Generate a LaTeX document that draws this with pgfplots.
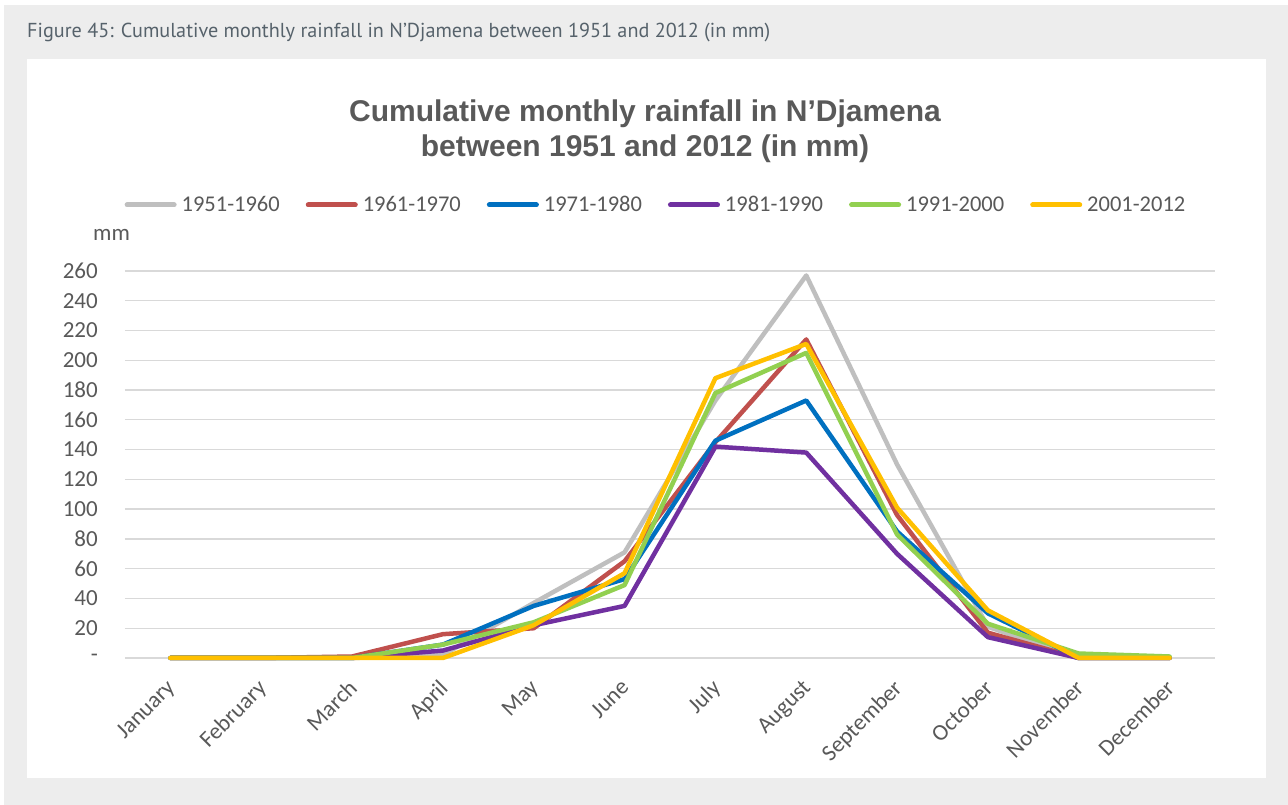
\documentclass[border=0pt]{standalone}
\usepackage{pgfplots}
\pgfplotsset{compat=1.18}
\usepackage{fontspec}
\setmainfont{Carlito}
\newfontfamily\titlefont{Liberation Sans}
\newfontfamily\headfont{PT Sans}
\definecolor{bggrey}{HTML}{EDEDED}
\definecolor{headgrey}{HTML}{56626B}
\definecolor{textgrey}{HTML}{595959}
\definecolor{gridgrey}{HTML}{D9D9D9}
\definecolor{sgrey}{HTML}{BFBFBF}
\definecolor{sred}{HTML}{C0504D}
\definecolor{sblue}{HTML}{0070C0}
\definecolor{spurple}{HTML}{7030A0}
\definecolor{sgreen}{HTML}{92D050}
\definecolor{syellow}{HTML}{FFC000}

\pgfplotstableread{
m g r b p gr y
0 0 0 0 0 0 0
1 0 0 0 0 0 0
2 0 1 0 0 0 0
3 2 16 9 5 9 0
4 37 20 35 22 24 22
5 71 65 53 35 49 57
6 173 145 146 142 178 188
7 257 214 173 138 205 211
8 130 96 85 70 83 101
9 21 17 30 14 23 32
10 0 0 0 0 3 0
11 0 0 0 0 1 0
}\rain

\begin{document}
\begin{tikzpicture}[x=1pt,y=1pt]
\fill[white] (0,0) rectangle (1288,805);
\fill[bggrey] (4,0) rectangle (1288,800);
\fill[white] (27,27) rectangle (1266,746);
\node[anchor=base west, inner sep=0pt, text=headgrey, font=\headfont\fontsize{20.2}{23}\selectfont] at (27,767) {Figure 45: Cumulative monthly rainfall in N’Djamena between 1951 and 2012 (in mm)};
\node[anchor=base, inner sep=0pt, text=textgrey, font=\titlefont\bfseries\fontsize{30}{36}\selectfont] at (645,683) {Cumulative monthly rainfall in N’Djamena};
\node[anchor=base, inner sep=0pt, text=textgrey, font=\titlefont\bfseries\fontsize{30}{36}\selectfont] at (645,648) {between 1951 and 2012 (in mm)};
\node[anchor=base west, inner sep=0pt, text=textgrey, font=\fontsize{23}{26}\selectfont] at (93,564) {mm};
\begin{axis}[
  at={(125pt,147pt)}, anchor=south west,
  scale only axis, width=1090pt, height=387pt,
  xmin=-0.5, xmax=11.5, ymin=0, ymax=260,
  clip=false,
  axis line style={draw=none},
  major tick length=0pt,
  ymajorgrids,
  grid style={color=gridgrey, line width=1.3pt},
  ytick={0,20,40,60,80,100,120,140,160,180,200,220,240,260},
  yticklabels={-,20,40,60,80,100,120,140,160,180,200,220,240,260},
  xtick={0,1,2,3,4,5,6,7,8,9,10,11},
  xticklabels={January,February,March,April,May,June,July,August,September,October,November,December},
  tick label style={font=\fontsize{23}{26}\selectfont, text=textgrey},
  yticklabel style={anchor=east, inner sep=0pt, xshift=-27pt},
  xticklabel style={xshift=-5pt, yshift=-20pt, rotate=45, anchor=north east, inner sep=0pt},
  legend columns=6,
  legend style={at={(0.5,1)}, anchor=center, yshift=66pt, xshift=-14pt, draw=none, fill=none,
    font=\fontsize{22.5}{25}\selectfont, text=textgrey,
    /tikz/every odd column/.append style={column sep=3pt},
    /tikz/every even column/.append style={column sep=24pt}},
  legend image code/.code={\draw[#1, line width=5pt, line cap=round] (0pt,0pt) -- (47pt,0pt);},
  every axis plot/.append style={line width=4.5pt, line join=round, line cap=round, no markers},
]
\addplot[sgrey] table[x=m, y=g] {\rain};
\addlegendentry{1951-1960}
\addplot[sred] table[x=m, y=r] {\rain};
\addlegendentry{1961-1970}
\addplot[sblue] table[x=m, y=b] {\rain};
\addlegendentry{1971-1980}
\addplot[spurple] table[x=m, y=p] {\rain};
\addlegendentry{1981-1990}
\addplot[sgreen] table[x=m, y=gr] {\rain};
\addlegendentry{1991-2000}
\addplot[syellow] table[x=m, y=y] {\rain};
\addlegendentry{2001-2012}
\end{axis}
\end{tikzpicture}
\end{document}
